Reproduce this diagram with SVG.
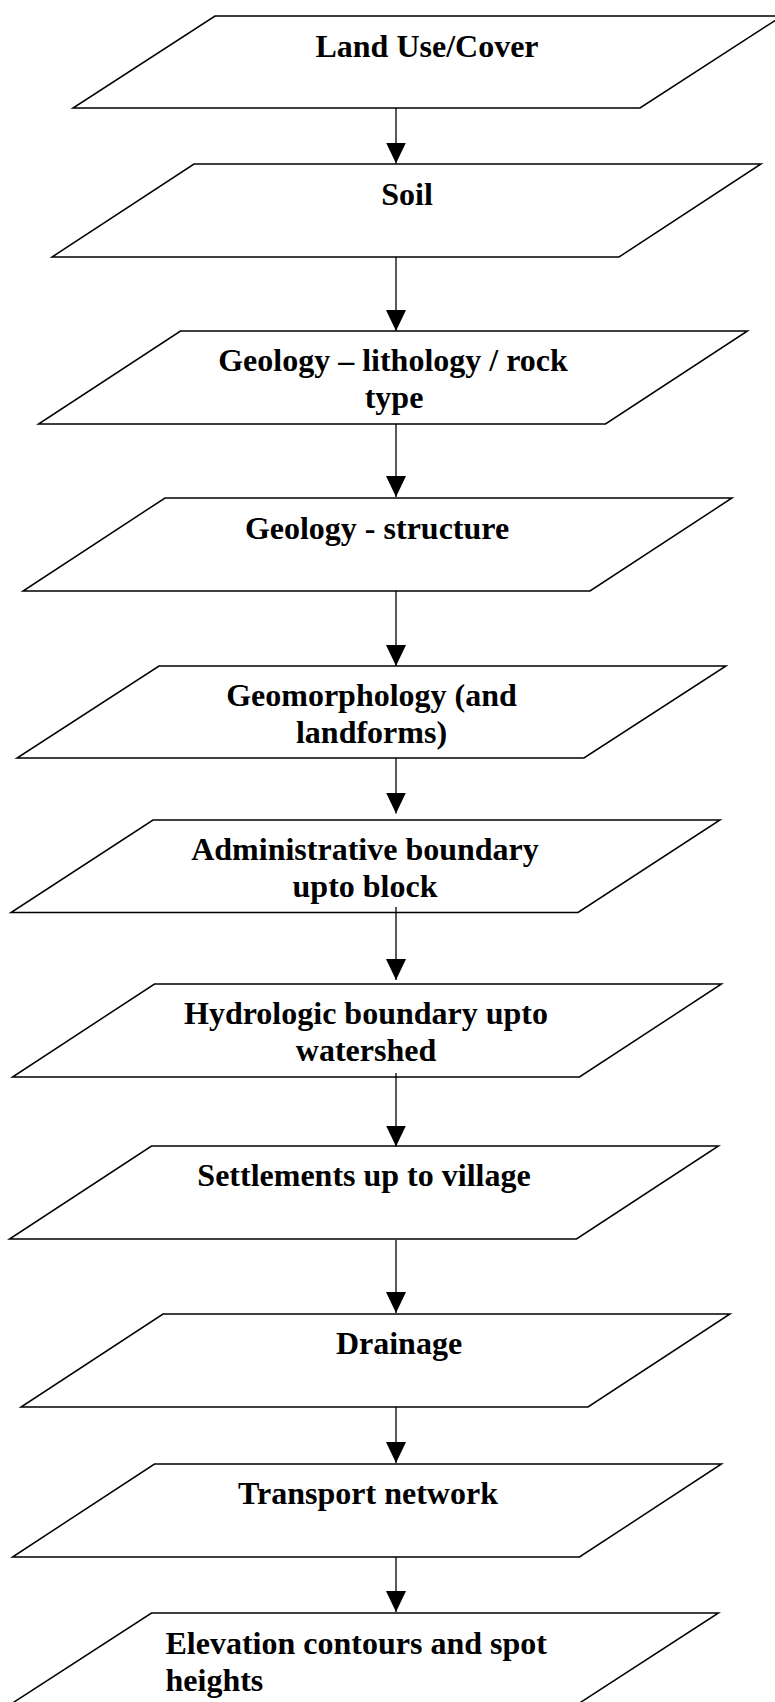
<svg xmlns="http://www.w3.org/2000/svg" width="775" height="1702" viewBox="0 0 775 1702">
<style>
.box{fill:#ffffff;stroke:#000000;stroke-width:1.5;stroke-linejoin:miter}
.lbl{font-family:"Liberation Serif","Times New Roman",serif;font-weight:bold;font-size:32px;fill:#000000}
.c{text-anchor:middle}
.conn line{stroke:#000000;stroke-width:1.3;fill:none}
</style>
<defs>
<marker id="ah" viewBox="0 0 21 20" refX="21" refY="10" markerWidth="21" markerHeight="20" markerUnits="userSpaceOnUse" orient="auto">
<path d="M0,0 L21,10 L0,20 Z" fill="#000000"/>
</marker>
</defs>
<rect width="775" height="1702" fill="#ffffff"/>

<g id="n1"><polygon class="box" points="215,16 782,16 640,108 73,108"/><text class="lbl c" x="427" y="57">Land Use/Cover</text></g>
<g id="n2"><polygon class="box" points="194,164 761,164 619,257 52,257"/><text class="lbl c" x="407" y="205">Soil</text></g>
<g id="n3"><polygon class="box" points="180.5,331 747.5,331 605.5,424 38.5,424"/><text class="lbl c" x="393" y="371">Geology – lithology / rock</text><text class="lbl c" x="394" y="408">type</text></g>
<g id="n4"><polygon class="box" points="165,498 732,498 590,591 23,591"/><text class="lbl c" x="377" y="539">Geology - structure</text></g>
<g id="n5"><polygon class="box" points="159,666 726,666 584,758 17,758"/><text class="lbl c" x="371.5" y="706">Geomorphology (and</text><text class="lbl c" x="371.5" y="743">landforms)</text></g>
<g id="n6"><polygon class="box" points="153,820 720,820 578,912.5 11,912.5"/><text class="lbl c" x="365" y="859.5">Administrative boundary</text><text class="lbl c" x="365" y="896.5">upto block</text></g>
<g id="n7"><polygon class="box" points="154.5,984 721.5,984 579.5,1077 12.5,1077"/><text class="lbl c" x="366" y="1024">Hydrologic boundary upto</text><text class="lbl c" x="366" y="1061">watershed</text></g>
<g id="n8"><polygon class="box" points="151.5,1146 718.5,1146 576.5,1239 9.5,1239"/><text class="lbl c" x="364" y="1186">Settlements up to village</text></g>
<g id="n9"><polygon class="box" points="163,1314 730,1314 588,1407 21,1407"/><text class="lbl c" x="399" y="1353.5">Drainage</text></g>
<g id="n10"><polygon class="box" points="154.5,1464 721.5,1464 579.5,1557 12.5,1557"/><text class="lbl c" x="368" y="1504">Transport network</text></g>
<g id="n11"><polygon class="box" points="151.5,1613 718.5,1613 576.5,1705 9.5,1705"/><text class="lbl" x="165.5" y="1653.5">Elevation contours and spot</text><text class="lbl" x="165.5" y="1690.5">heights</text></g>

<g id="connectors" class="conn">
<line x1="396" y1="108" x2="396" y2="163.5" marker-end="url(#ah)"/>
<line x1="396" y1="257" x2="396" y2="331" marker-end="url(#ah)"/>
<line x1="396" y1="424" x2="396" y2="497" marker-end="url(#ah)"/>
<line x1="396" y1="591" x2="396" y2="666" marker-end="url(#ah)"/>
<line x1="396" y1="758" x2="396" y2="813.5" marker-end="url(#ah)"/>
<line x1="396" y1="907" x2="396" y2="980" marker-end="url(#ah)"/>
<line x1="396" y1="1073" x2="396" y2="1146.5" marker-end="url(#ah)"/>
<line x1="396" y1="1240" x2="396" y2="1313" marker-end="url(#ah)"/>
<line x1="396" y1="1407" x2="396" y2="1463" marker-end="url(#ah)"/>
<line x1="396" y1="1557" x2="396" y2="1612" marker-end="url(#ah)"/>
</g>
</svg>
